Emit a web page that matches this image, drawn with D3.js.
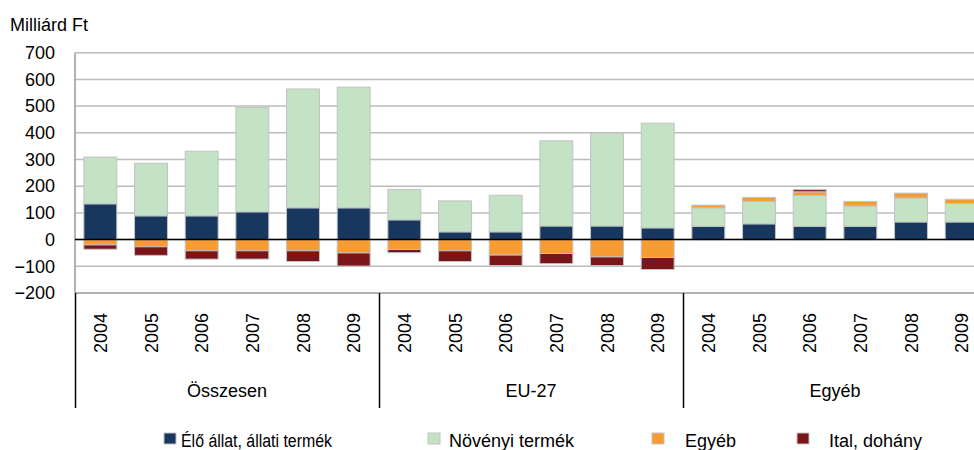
<!DOCTYPE html>
<html>
<head>
<meta charset="utf-8">
<script src="https://cdn.jsdelivr.net/npm/d3@7"></script>
<style>
  body { margin: 0; background: #fff; }
  text { font-family: "Liberation Sans", Arial, sans-serif; font-size: 18px; fill: #000; }
</style>
</head>
<body>
<svg id="chart" width="974" height="450"></svg>
<script>
// data, milliard Ft
const years = ['2004', '2005', '2006', '2007', '2008', '2009'];
const groups = ['Összesen', 'EU-27', 'Egyéb'];
const seriesNames = ['Élő állat, állati termék', 'Növényi termék', 'Egyéb', 'Ital, dohány'];
const yTicks = [-200, -100, 0, 100, 200, 300, 400, 500, 600, 700];

const eloAllat = [134, 89, 89, 104, 119, 119,   74, 29, 29, 51, 51, 44,   50, 59, 50, 50, 66, 66];
const novenyi  = [175, 197, 242, 391, 445, 452,  114, 116, 137, 319, 348, 392,  69, 84, 115, 76, 90, 69];
const egyeb    = [-20, -27, -42, -42, -42, -50,  -37, -42, -58, -52, -65, -67,  10, 15, 14, 17, 18, 16];
const ital     = [-16, -32, -31, -31, -40, -49,  -12, -40, -39, -38, -32, -45,   0, 0, 8, 0, 0, 0];

const colors = ['#17375e', '#c4e2c4', '#f79b33', '#7a1518'];

var svg = d3.select('#chart');
const W = +svg.attr('width');
const H = +svg.attr('height');

// one row per bar
var rows = [];
groups.forEach((g, gi) => {
    years.forEach((yr, yi) => {
        const i = gi * years.length + yi;
        rows.push({id: g + '|' + yr, group: g, year: yr,
                   s0: eloAllat[i], s1: novenyi[i], s2: egyeb[i], s3: ital[i]});
    });
});

const keys = ['s0', 's1', 's2', 's3'];
const stacked = d3.stack().keys(keys).offset(d3.stackOffsetDiverging)(rows);

const plotL = 75, plotR = 987, plotT = 52.7, plotB = 293;

const x = d3.scaleBand()
    .domain(rows.map(d => d.id))
    .range([plotL, plotR])
    .paddingInner(0.35)
    .paddingOuter(0.175);

const y = d3.scaleLinear()
    .domain([-200, 700])
    .range([plotB, plotT]);

// gridlines
svg.append('g')
    .selectAll('line').data(yTicks)
    .enter().append('line')
        .attr('x1', plotL).attr('x2', plotR)
        .attr('y1', d => y(d)).attr('y2', d => y(d))
        .style('stroke', d => d === -200 ? '#9a9a9a' : '#bcbcbc')
        .style('stroke-width', 1.5);

// left border of plot area
svg.append('line')
    .attr('x1', plotL).attr('x2', plotL)
    .attr('y1', plotT).attr('y2', plotB)
    .style('stroke', '#9a9a9a').style('stroke-width', 1.5);

// y axis labels
const yAxis = svg.append('g')
    .attr('transform', 'translate(' + (plotL - 20) + ',0)')
    .call(d3.axisLeft(y).tickValues(yTicks).tickSize(0).tickPadding(0));
yAxis.select('.domain').remove();
yAxis.selectAll('text')
    .style('font-size', '18px')
    .style('font-family', '"Liberation Sans", Arial, sans-serif')
    .attr('fill', '#000');

svg.append('text').text('Milliárd Ft')
    .attr('x', 10).attr('y', 31);

// bars
svg.append('g')
    .selectAll('g').data(stacked)
    .enter().append('g')
        .attr('fill', (d, i) => colors[i])
    .selectAll('rect').data(d => d)
    .enter().append('rect')
        .attr('x', d => x(d.data.id))
        .attr('width', x.bandwidth())
        .attr('y', d => y(Math.max(d[0], d[1])))
        .attr('height', d => Math.abs(y(d[0]) - y(d[1])))
        .style('stroke', d => (d[1] - d[0]) === 0 ? 'none' : '#c3c3c3')
        .style('stroke-width', 1);

// zero line
svg.append('line')
    .attr('x1', plotL).attr('x2', plotR)
    .attr('y1', y(0)).attr('y2', y(0))
    .style('stroke', '#000').style('stroke-width', 1.5);

// category axis: years
svg.append('g')
    .selectAll('text').data(rows)
    .enter().append('text')
        .text(d => d.year)
        .attr('text-anchor', 'end')
        .attr('transform', d => 'translate(' + (x(d.id) + x.bandwidth() / 2 + 6.5) + ',313) rotate(-90)');

// group separators and labels
const groupW = (plotR - plotL) / groups.length;
svg.append('g')
    .selectAll('line').data(d3.range(groups.length + 1))
    .enter().append('line')
        .attr('x1', d => plotL + 0.5 + d * groupW)
        .attr('x2', d => plotL + 0.5 + d * groupW)
        .attr('y1', plotB).attr('y2', 408)
        .style('stroke', '#000').style('stroke-width', 1.5);

svg.append('g')
    .selectAll('text').data(groups)
    .enter().append('text')
        .text(d => d)
        .attr('x', (d, i) => plotL + (i + 0.5) * groupW)
        .attr('y', 397)
        .attr('text-anchor', 'middle');

// legend
const legendX = [164, 428, 652, 797];
const legendTextX = [181, 449, 685, 829];
const legend = svg.append('g');
seriesNames.forEach((name, i) => {
    legend.append('rect')
        .attr('x', legendX[i]).attr('y', 433)
        .attr('width', 12).attr('height', 11)
        .attr('fill', colors[i])
        .style('stroke', '#c3c3c3').style('stroke-width', 1);
    const t = legend.append('text').text(name)
        .attr('x', legendTextX[i]).attr('y', 447);
    // first entry is drawn narrower in the original
    if (i === 0) t.attr('textLength', 151).attr('lengthAdjust', 'spacingAndGlyphs');
});
</script>
</body>
</html>
